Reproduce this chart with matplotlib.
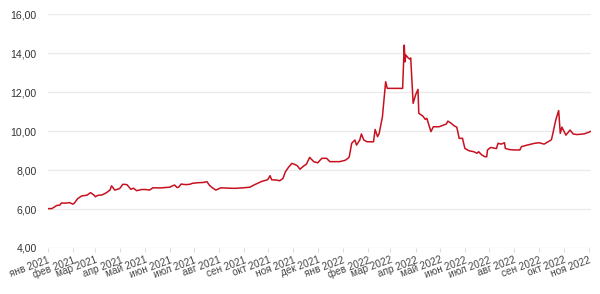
import matplotlib
matplotlib.use("Agg")
import matplotlib.pyplot as plt
import matplotlib.dates as mdates
import pandas as pd
from matplotlib.ticker import FuncFormatter

plt.rcParams['font.family'] = ['Liberation Sans', 'DejaVu Sans']

dates = [
    "2021-01-01", "2021-01-06", "2021-01-10", "2021-01-12", "2021-01-16", "2021-01-18",
    "2021-01-23", "2021-01-28", "2021-02-01", "2021-02-03", "2021-02-07", "2021-02-12",
    "2021-02-17", "2021-02-19", "2021-02-23", "2021-02-27", "2021-03-01", "2021-03-04",
    "2021-03-09", "2021-03-14", "2021-03-19", "2021-03-21", "2021-03-25", "2021-03-29",
    "2021-03-31", "2021-04-04", "2021-04-09", "2021-04-14", "2021-04-17", "2021-04-21",
    "2021-04-27", "2021-05-02", "2021-05-07", "2021-05-11", "2021-05-20", "2021-05-27",
    "2021-06-01", "2021-06-05", "2021-06-07", "2021-06-10", "2021-06-12", "2021-06-15",
    "2021-06-21", "2021-06-26", "2021-06-29", "2021-07-06", "2021-07-12", "2021-07-17",
    "2021-07-20", "2021-07-24", "2021-07-28", "2021-08-01", "2021-08-04", "2021-08-12",
    "2021-08-20", "2021-08-29", "2021-09-08", "2021-09-14", "2021-09-23", "2021-09-30",
    "2021-10-03", "2021-10-05", "2021-10-10", "2021-10-15", "2021-10-19", "2021-10-22",
    "2021-10-26", "2021-10-30", "2021-11-03", "2021-11-06", "2021-11-09", "2021-11-14",
    "2021-11-17", "2021-11-21", "2021-11-26", "2021-12-01", "2021-12-06", "2021-12-12",
    "2021-12-16", "2021-12-23", "2021-12-28", "2022-01-04", "2022-01-08", "2022-01-09",
    "2022-01-12", "2022-01-16", "2022-01-18", "2022-01-22", "2022-01-24", "2022-01-27",
    "2022-01-31", "2022-02-08", "2022-02-10", "2022-02-13", "2022-02-15", "2022-02-19",
    "2022-02-23", "2022-02-25", "2022-03-16", "2022-03-18", "2022-03-19", "2022-03-20",
    "2022-03-23", "2022-03-25", "2022-03-26", "2022-03-29", "2022-04-01", "2022-04-04",
    "2022-04-05", "2022-04-10", "2022-04-13", "2022-04-15", "2022-04-20", "2022-04-23",
    "2022-04-30", "2022-05-09", "2022-05-11", "2022-05-15", "2022-05-19", "2022-05-22",
    "2022-05-25", "2022-05-29", "2022-06-01", "2022-06-06", "2022-06-12", "2022-06-16",
    "2022-06-18", "2022-06-22", "2022-06-26", "2022-06-28", "2022-06-29", "2022-07-03",
    "2022-07-10", "2022-07-12", "2022-07-16", "2022-07-20", "2022-07-21", "2022-07-26",
    "2022-08-01", "2022-08-08", "2022-08-10", "2022-08-17", "2022-08-26", "2022-09-01",
    "2022-09-07", "2022-09-12", "2022-09-16", "2022-09-18", "2022-09-20", "2022-09-22",
    "2022-09-25", "2022-09-27", "2022-09-29", "2022-10-02", "2022-10-04", "2022-10-09",
    "2022-10-13", "2022-10-18", "2022-10-27", "2022-11-02", "2022-11-03",
]
values = [
    6.02, 6.02, 6.12, 6.18, 6.20, 6.31,
    6.30, 6.33, 6.25, 6.30, 6.53, 6.67,
    6.70, 6.72, 6.84, 6.72, 6.63, 6.70,
    6.72, 6.82, 6.97, 7.19, 6.97, 7.02,
    7.05, 7.27, 7.25, 7.01, 7.07, 6.94,
    7.00, 7.00, 6.97, 7.09, 7.08, 7.10,
    7.12, 7.20, 7.23, 7.10, 7.12, 7.28,
    7.25, 7.27, 7.32, 7.35, 7.36, 7.40,
    7.22, 7.08, 6.97, 7.05, 7.09, 7.07,
    7.06, 7.08, 7.12, 7.25, 7.42, 7.50,
    7.71, 7.50, 7.49, 7.45, 7.57, 7.91,
    8.15, 8.34, 8.28, 8.21, 8.04, 8.22,
    8.30, 8.65, 8.43, 8.37, 8.60, 8.60,
    8.43, 8.43, 8.43, 8.50, 8.62, 8.68,
    9.37, 9.54, 9.28, 9.54, 9.85, 9.54,
    9.45, 9.45, 10.08, 9.71, 9.88, 10.73,
    12.53, 12.19, 12.19, 14.41, 13.55, 13.90,
    13.75, 13.69, 13.75, 11.42, 11.85, 12.14,
    10.91, 10.77, 10.60, 10.65, 9.97, 10.22,
    10.22, 10.36, 10.51, 10.40, 10.26, 10.20,
    9.62, 9.63, 9.11, 8.99, 8.94, 8.86,
    8.94, 8.77, 8.68, 8.68, 9.03, 9.16,
    9.10, 9.37, 9.33, 9.40, 9.11, 9.05,
    9.03, 9.03, 9.20, 9.28, 9.37, 9.40,
    9.33, 9.45, 9.55, 9.90, 10.31, 10.65,
    11.05, 9.88, 10.20, 9.95, 9.79, 10.05,
    9.85, 9.82, 9.86, 9.95, 9.98,
]
month_names = ["янв", "фев", "мар", "апр", "май", "июн",
               "июл", "авг", "сен", "окт", "ноя", "дек"]
y_ticks = [4, 6, 8, 10, 12, 14, 16]

x = pd.to_datetime(dates)

fig = plt.figure(figsize=(6.0, 2.94), dpi=100)
ax = fig.add_axes([0.0795, 0.1565, 0.9055, 0.7955])

ax.plot(x, values, color="#c8101e", lw=1.1, solid_joinstyle="round")

ax.set_ylim(4, 16)
ax.set_yticks(y_ticks)
ax.yaxis.set_major_formatter(FuncFormatter(lambda v, p: f"{v:.2f}".replace(".", ",")))
ax.set_xlim(pd.Timestamp("2021-01-01"), pd.Timestamp("2022-11-04"))

ticks = pd.date_range("2021-01-01", "2022-11-01", freq="MS")
ax.set_xticks(ticks)
ax.set_xticklabels([f"{month_names[t.month - 1]} {t.year}" for t in ticks])

for s in ["top", "right", "left", "bottom"]:
    ax.spines[s].set_visible(False)
ax.grid(axis="y", color="#ebebeb", lw=1.0)
ax.grid(axis="x", visible=False)
ax.set_axisbelow(True)

ax.tick_params(axis="y", length=0, pad=8, labelsize=7.6, labelcolor="#333333")
ax.tick_params(axis="x", length=3, color="#dddddd", pad=2, labelsize=7.2, labelcolor="#444444")
for lab in ax.get_xticklabels():
    lab.set_rotation(20)
    lab.set_ha("right")
    lab.set_va("top")
    lab.set_rotation_mode("anchor")

fig.savefig("out.png", dpi=100, facecolor="white")
